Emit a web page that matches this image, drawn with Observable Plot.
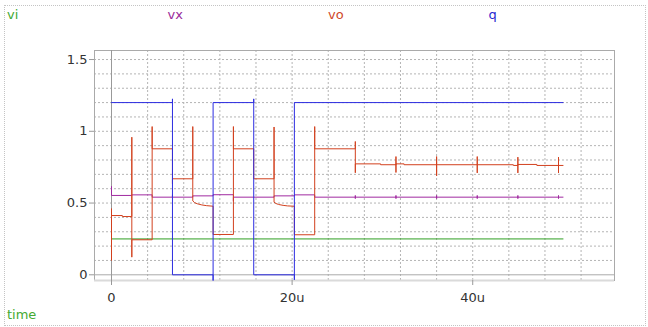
<!DOCTYPE html>
<html><head><meta charset="utf-8">
<script src="https://cdn.jsdelivr.net/npm/d3@7"></script>
<script src="https://cdn.jsdelivr.net/npm/@observablehq/plot@0.6"></script>
<style>
body{margin:0;background:#fff;}
#wrap{position:relative;width:648px;height:327px;overflow:hidden;font-family:"DejaVu Sans",sans-serif;}
#box{position:absolute;left:4px;top:5px;width:640px;height:319px;border:1px dotted #c4c4c4;}
#chart{position:absolute;left:0;top:0;}
#legend{position:absolute;left:7px;top:8px;display:grid;grid-template-columns:repeat(4,160.5px);font-size:13px;line-height:13px;}
#xname{position:absolute;left:7px;top:308px;font-size:13px;line-height:13px;}
</style></head><body>
<div id="wrap">
<div id="box"></div>
<div id="chart"></div>
<div id="legend"></div>
<div id="xname"></div>
</div>
<script>
// Series names / colours (legend order)
const seriesNames = ["vi", "vx", "vo", "q"];
const seriesColors = ["#2e9e22", "#a02aa0", "#d2401e", "#2c2ce0"];
const legendColors = ["#44aa33", "#9a2a9a", "#d04a2a", "#2a2ad0"];
const xName = "time";
const xNameColor = "#44aa33";

// Axis ticks (time in microseconds, voltage)
const xTicks = [0, 20, 40];
const yTicks = [0, 0.5, 1, 1.5];
const gridX = [4, 8, 12, 16, 20, 24, 28, 32, 36, 40, 44, 48, 52];
const gridY = [0.1, 0.2, 0.3, 0.4, 0.5, 0.6, 0.7, 0.8, 0.9, 1.0, 1.1, 1.2, 1.3, 1.4, 1.5];
const xDomain = [-1.883, 55.70];
const yDomain = [-0.0397, 1.563];

// vi: input (time u, value)
const vi = [[0, 0.25], [50, 0.25]];

// vx
const vx = [
  [0, 0.615], [0, 0.553], [2.25, 0.553], [2.25, 0.557], [4.5, 0.557], [4.5, 0.541],
  [6.75, 0.541], [6.75, 0.558], [6.75, 0.541], [9, 0.541], [9, 0.55], [11.25, 0.55],
  [11.25, 0.558], [13.5, 0.558], [13.5, 0.513], [13.5, 0.541], [18, 0.541], [18, 0.55],
  [20.25, 0.55], [20.25, 0.557], [22.5, 0.557], [22.5, 0.541],
  [27, 0.541], [27, 0.553], [27, 0.531], [27, 0.541],
  [31.5, 0.541], [31.5, 0.553], [31.5, 0.531], [31.5, 0.541],
  [36, 0.541], [36, 0.553], [36, 0.531], [36, 0.541],
  [40.5, 0.541], [40.5, 0.553], [40.5, 0.531], [40.5, 0.541],
  [45, 0.541], [45, 0.553], [45, 0.531], [45, 0.541],
  [49.5, 0.541], [49.5, 0.553], [49.5, 0.531], [49.5, 0.541], [50, 0.541]
];

// vo
const vo = [
  [0, 0.46], [0, 0.1], [0, 0.413], [1.2, 0.413], [1.2, 0.406], [2.25, 0.406],
  [2.25, 0.959], [2.25, 0.123], [2.25, 0.244], [4.5, 0.244], [4.5, 1.033], [4.5, 0.878],
  [6.75, 0.878], [6.75, 0.634], [6.75, 0.669], [9, 0.669], [9, 1.033], [9, 0.515],
  [9.2, 0.503], [9.5, 0.495], [10, 0.487], [10.5, 0.482], [11.25, 0.478],
  [11.25, 0.281], [13.5, 0.281], [13.5, 1.033], [13.5, 0.878], [15.75, 0.878],
  [15.75, 0.669], [18, 0.669], [18, 1.03], [18, 0.506], [18.2, 0.497], [18.5, 0.49],
  [19, 0.484], [19.5, 0.48], [20.25, 0.478], [20.25, 0.279], [22.5, 0.279],
  [22.5, 1.033], [22.5, 0.878], [27, 0.878], [27, 0.929], [27, 0.711], [27, 0.773],
  [29.8, 0.773], [29.8, 0.767], [31.5, 0.767], [31.5, 0.824], [31.5, 0.713], [31.5, 0.773],
  [32.4, 0.773], [32.4, 0.767], [36, 0.767], [36, 0.824], [36, 0.69], [36, 0.767],
  [40.5, 0.767], [40.5, 0.824], [40.5, 0.71], [40.5, 0.767], [44.5, 0.767], [44.5, 0.762],
  [45, 0.762], [45, 0.82], [45, 0.71], [45, 0.769], [47.1, 0.769], [47.1, 0.762],
  [49.5, 0.762], [49.5, 0.82], [49.5, 0.71], [49.5, 0.762], [50, 0.762]
];

// q
const q = [
  [0, 1.2], [6.75, 1.2], [6.75, 1.226], [6.75, 0], [11.25, 0], [11.25, -0.04],
  [11.25, 1.2], [15.75, 1.2], [15.75, 1.226], [15.75, 0], [20.25, 0], [20.25, -0.035],
  [20.25, 1.2], [50, 1.2]
];

const seriesData = [vi, vx, vo, q];

const fmtX = d => d === 0 ? "0" : d + "u";
const fmtY = d => String(d);

const chart = Plot.plot({
  width: 648, height: 327,
  marginLeft: 94, marginRight: 34, marginTop: 50, marginBottom: 47,
  style: {fontFamily: "DejaVu Sans", fontSize: "13px", background: "transparent", color: "#333"},
  x: {domain: xDomain, axis: null},
  y: {domain: yDomain, axis: null},
  marks: [
    Plot.ruleX(gridX, {stroke: "#b4b4b4", strokeDasharray: "2,2"}),
    Plot.ruleY(gridY, {stroke: "#b4b4b4", strokeDasharray: "2,2"}),
    Plot.frame({stroke: "#aaa"}),
    Plot.ruleY([yDomain[0]], {stroke: "#dadada", strokeWidth: 2}),
    Plot.ruleY([0], {stroke: "#aaa"}),
    Plot.ruleX([0], {stroke: "#999"}),
    Plot.axisY({ticks: yTicks, tickSize: 5, tickPadding: 2, tickFormat: fmtY, stroke: "#999", fill: "#333", label: null}),
    Plot.axisX({ticks: xTicks, tickSize: 5, tickPadding: 7, tickFormat: fmtX, stroke: "#999", fill: "#333", label: null}),
    ...seriesData.map((s, i) => Plot.line(s, {x: d => d[0], y: d => d[1], stroke: seriesColors[i], strokeWidth: 1}))
  ]
});
document.getElementById("chart").appendChild(chart);

const lg = document.getElementById("legend");
seriesNames.forEach((n, i) => {
  const s = document.createElement("span");
  s.textContent = n;
  s.style.color = legendColors[i];
  lg.appendChild(s);
});
const xn = document.getElementById("xname");
xn.textContent = xName;
xn.style.color = xNameColor;
</script>
</body></html>
